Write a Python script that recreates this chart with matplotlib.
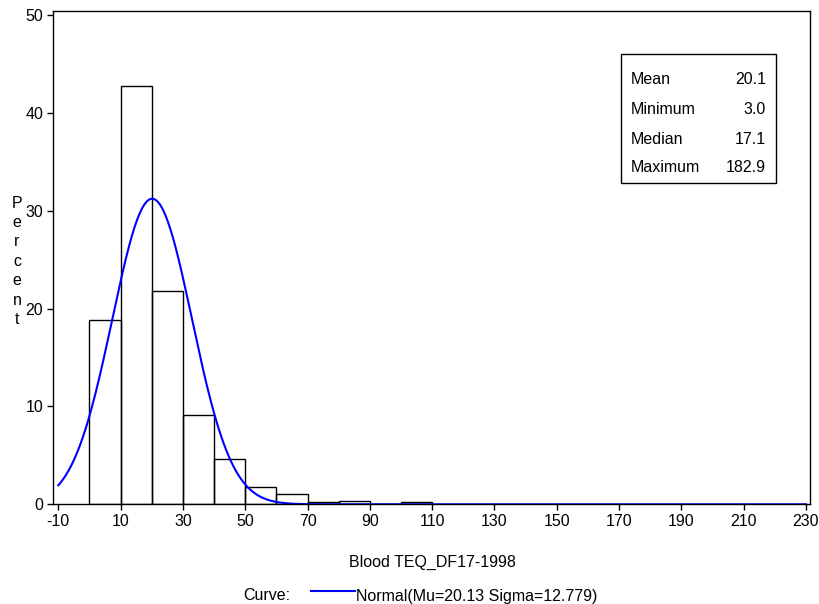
import matplotlib
matplotlib.use("Agg")
import matplotlib.pyplot as plt
from matplotlib.lines import Line2D
from matplotlib.patches import Rectangle
import numpy as np

# histogram bins (left edges, width 10) and percent per bin
bin_left = [0, 10, 20, 30, 40, 50, 60, 70, 80, 90, 100]
bin_pct = [18.8, 42.7, 21.8, 9.1, 4.6, 1.77, 1.05, 0.2, 0.34, 0.0, 0.2]
bin_width = 10

# fitted normal curve parameters
mu = 20.13
sigma = 12.779

stat_names = ["Mean", "Minimum", "Median", "Maximum"]
stat_values = ["20.1", "3.0", "17.1", "182.9"]

x_ticks = list(range(-10, 231, 20))
y_ticks = [0, 10, 20, 30, 40, 50]

W, H = 820, 604
plt.rcParams["font.family"] = ["Liberation Sans", "DejaVu Sans"]
plt.rcParams["font.size"] = 11.5
plt.rcParams["axes.unicode_minus"] = False

fig = plt.figure(figsize=(W / 100, H / 100), dpi=100)
ax = fig.add_axes([53 / W, 1 - 504.3 / H, (810 - 53) / W, (504.3 - 11) / H])

ax.bar(bin_left, bin_pct, width=bin_width, align="edge", fill=False,
       edgecolor="black", linewidth=1.0)

xs = np.linspace(-10, 230, 600)
curve = 100 * bin_width * np.exp(-0.5 * ((xs - mu) / sigma) ** 2) / (sigma * np.sqrt(2 * np.pi))
ax.plot(xs, curve, color="#0000ff", linewidth=1.5)

ax.set_xlim(-11.7, 231.3)
ax.set_ylim(0, 50.4)
ax.set_xticks(x_ticks)
ax.set_yticks(y_ticks)
ax.tick_params(direction="out", length=4, width=1, colors="black", pad=3)
for s in ax.spines.values():
    s.set_linewidth(1.0)

# vertical stacked y label, one letter per line on a common baseline step
for i, ch in enumerate("Percent"):
    fig.text(17 / W, 1 - (207.7 + i * 19.4) / H, ch, ha="center", va="baseline")

fig.text(432 / W, 1 - 562 / H, "Blood TEQ_DF17-1998", ha="center", va="center")

# curve legend
fig.text(243 / W, 1 - 596 / H, "Curve:", ha="left", va="center")
fig.add_artist(Line2D([311 / W, 355 / W], [1 - 591 / H, 1 - 591 / H],
                      color="#0000ff", linewidth=1.5))
fig.text(356 / W, 1 - 596 / H, f"Normal(Mu={mu:.2f} Sigma={sigma:.3f})",
         ha="left", va="center")

# stats inset box
fig.add_artist(Rectangle((621 / W, 1 - 183 / H), (776 - 621) / W, (183 - 54) / H,
                         transform=fig.transFigure, fill=False,
                         edgecolor="black", linewidth=1.0))
row_y = [79, 110, 139, 168]
for name, val, yy in zip(stat_names, stat_values, row_y):
    fig.text(631 / W, 1 - yy / H, name, ha="left", va="center")
    fig.text(766 / W, 1 - yy / H, val, ha="right", va="center")

fig.savefig("out.png", dpi=100)
